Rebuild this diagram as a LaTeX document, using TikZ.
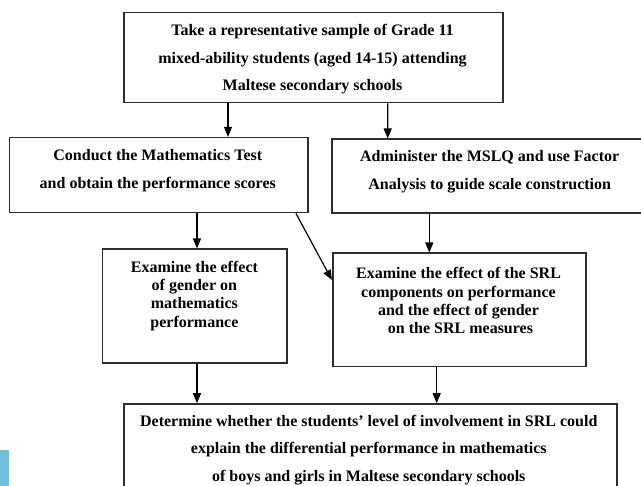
\documentclass[tikz,border=0pt]{standalone}
\usepackage{fontspec}
\setmainfont{Liberation Serif}
\usetikzlibrary{arrows.meta}
\definecolor{edgeblue}{RGB}{116,190,220}
\definecolor{boxline}{RGB}{45,45,45}
\tikzset{
  box/.style={draw=boxline, line width=1.6pt, rectangle, inner sep=0pt},
  txt/.style={align=center, inner sep=0pt, font=\bfseries\fontsize{16}{27.5}\selectfont},
  txtsm/.style={align=center, inner sep=0pt, font=\bfseries\fontsize{16}{18.3}\selectfont},
  flow/.style={draw=black, line width=1.2pt, -{Triangle[width=8pt,length=10pt]}}
}
\begin{document}
\begin{tikzpicture}[x=1pt,y=-1pt]
\useasboundingbox (0,0) rectangle (641,486);
\clip (0,0) rectangle (641,486);
\fill[white] (0,0) rectangle (641,486);
\fill[edgeblue] (0,450) rectangle (8.7,486);

% boxes
\node[box, minimum width=379pt, minimum height=90pt] (top) at (313.5,57.7) {};
\node[box, minimum width=298.7pt, minimum height=75pt] (conduct) at (158.65,175.2) {};
\node[box, minimum width=316.3pt, minimum height=74pt] (admin) at (489.85,176.3) {};
\node[box, minimum width=184.4pt, minimum height=114pt] (exa) at (194.5,306.3) {};
\node[box, minimum width=253.3pt, minimum height=113.4pt] (exb) at (459.35,310) {};
\node[box, minimum width=492.7pt, minimum height=91.4pt] (final) at (370.35,449.7) {};

% texts
\node[txt] (toptxt) at (312.5,59.2) {Take a representative sample of Grade 11\\mixed-ability students (aged 14-15) attending\\Maltese secondary schools};
\node[txt] (conducttxt) at (157.8,170.5) {Conduct the Mathematics Test\\and obtain the performance scores};
\node[txt] (admintxt) at (489.7,171.7) {Administer the MSLQ and use Factor\\Analysis to guide scale construction};
\node[txtsm] (exatxt) at (194.4,295.8) {Examine the effect\\of gender on\\mathematics\\performance};
\node[txtsm] (exbtxt) at (458.5,300.8) {Examine the effect of the SRL\\components on performance\\and the effect of gender\\\ on the SRL measures};
\node[txt] (finaltxt) at (368.8,449.7) {Determine whether the students' level of involvement in SRL could\\explain the differential performance in mathematics\\of boys and girls in Maltese secondary schools};

% connectors
\draw[flow] ([xshift=-85.5pt]top.south) -- ([xshift=69.35pt]conduct.north);
\draw[flow] ([xshift=74.2pt]top.south) -- ([xshift=-102.15pt]admin.north);
\draw[flow] ([xshift=38.35pt]conduct.south) -- ([xshift=2.5pt]exa.north);
\draw[flow] ([xshift=-60.55pt]admin.south) -- ([xshift=-30.05pt]exb.north);
\coordinate (diagstart) at ([xshift=137.35pt]conduct.south);
\draw[flow] (diagstart) -- ([yshift=30pt]exb.west);
\draw[flow] ([xshift=2.5pt]exa.south) -- ([xshift=-173.35pt]final.north);
\draw[flow] ([xshift=-22.65pt]exb.south) -- ([xshift=66.35pt]final.north);
\end{tikzpicture}
\end{document}
